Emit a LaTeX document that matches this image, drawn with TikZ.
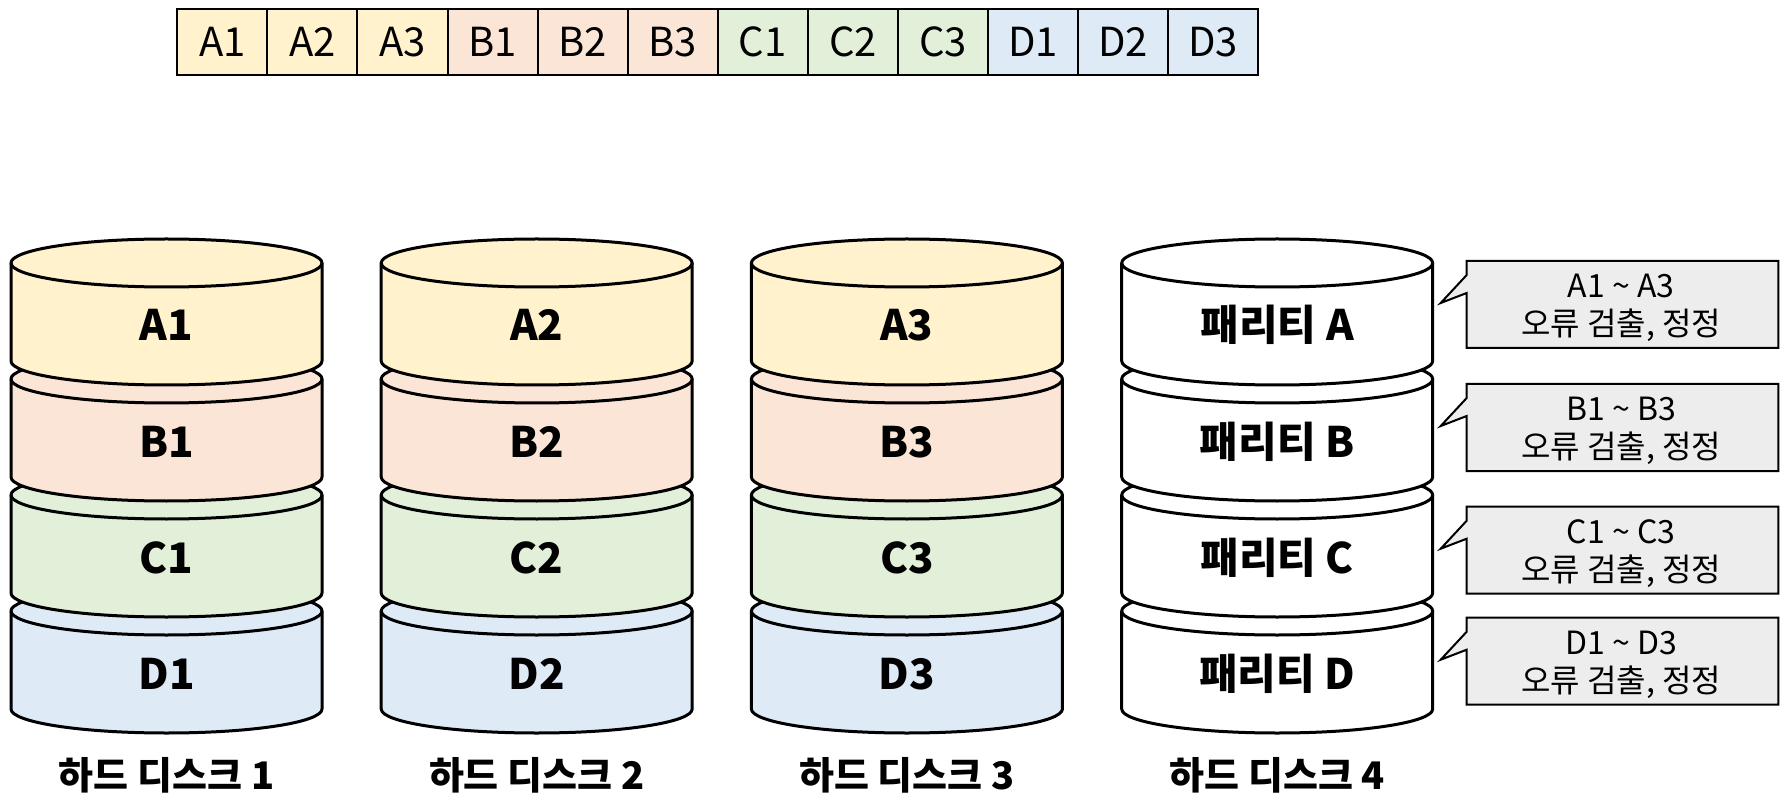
\documentclass[tikz,border=0pt]{standalone}
\usepackage{fontspec}
\setmainfont{Noto Sans CJK KR}
\definecolor{cA}{HTML}{FFF2CC}
\definecolor{cB}{HTML}{FBE5D6}
\definecolor{cC}{HTML}{E2F0D9}
\definecolor{cD}{HTML}{DEEBF7}
\definecolor{callgray}{HTML}{EDEDED}
\tikzset{
  layer/.style={draw=black, line width=3pt, line join=round},
  cell/.style={draw=black, line width=2pt, rectangle, minimum width=90.08pt, minimum height=65.7pt, inner sep=0pt, outer sep=0pt, font=\fontsize{40}{44}\selectfont},
  disklabel/.style={anchor=base, inner sep=0pt, font=\fontsize{42}{48}\selectfont\bfseries},
  diskname/.style={anchor=base, inner sep=0pt, font=\fontsize{38}{44}\selectfont\bfseries},
  callbox/.style={draw=black, line width=2pt, fill=callgray, line join=miter},
  calltext/.style={align=center, inner sep=0pt, font=\fontsize{32}{38}\selectfont},
}
\newcommand\drawlayer[5]{% name, cx, ytop (px from top), fill, label
  \filldraw[layer, fill=#4] (#2-155.5, 804-#3) -- (#2-155.5, 804-#3-98)
    arc[start angle=180, end angle=360, x radius=155.5pt, y radius=24pt]
    -- (#2+155.5, 804-#3)
    arc[start angle=0, end angle=180, x radius=155.5pt, y radius=24pt] -- cycle;
  \draw[layer] (#2-155.5, 804-#3) arc[start angle=180, end angle=360, x radius=155.5pt, y radius=24pt];
  \node[disklabel] (#1) at (#2, 804-#3-78) {#5};
}
\newcommand\drawcallout[4]{% name, top y, line1, line2
  \filldraw[callbox] (1466.7, 804-#2) -- (1778.3, 804-#2) -- (1778.3, 804-#2-87)
    -- (1466.7, 804-#2-87) -- (1466.7, 804-#2-32) -- (1440.7, 804-#2-42)
    -- (1466.7, 804-#2-14) -- cycle;
  \node[calltext] (#1) at (1621, 804-#2-47) {#3\\#4};
}
\begin{document}
\begin{tikzpicture}[x=1pt, y=1pt]
  \useasboundingbox (0,0) rectangle (1787,804);
  % top strip
  \foreach \t/\c [count=\i from 0] in {A1/cA,A2/cA,A3/cA,B1/cB,B2/cB,B3/cB,C1/cC,C2/cC,C3/cC,D1/cD,D2/cD,D3/cD} {
    \node[cell, fill=\c] (s\t) at (177.3+45.04+90.08*\i, 804-42.15) {\t};
  }
  % disks
  \foreach \d/\cx in {1/166.5, 2/536.7, 3/906.9} {
    \drawlayer{d\d D}{\cx}{611}{cD}{D\d}
    \drawlayer{d\d C}{\cx}{495}{cC}{C\d}
    \drawlayer{d\d B}{\cx}{379}{cB}{B\d}
    \drawlayer{d\d A}{\cx}{263}{cA}{A\d}
    \node[diskname] (n\d) at (\cx, 804-789) {하드 디스크 \d};
  }
  \drawlayer{pD}{1277.2}{611}{white}{패리티 D}
  \drawlayer{pC}{1277.2}{495}{white}{패리티 C}
  \drawlayer{pB}{1277.2}{379}{white}{패리티 B}
  \drawlayer{pA}{1277.2}{263}{white}{패리티 A}
  \node[diskname] (n4) at (1277.2, 804-789) {하드 디스크 4};
  % callouts
  \drawcallout{kA}{261}{A1 \char`\~{} A3}{오류 검출, 정정}
  \drawcallout{kB}{384}{B1 \char`\~{} B3}{오류 검출, 정정}
  \drawcallout{kC}{506.7}{C1 \char`\~{} C3}{오류 검출, 정정}
  \drawcallout{kD}{617.7}{D1 \char`\~{} D3}{오류 검출, 정정}
\end{tikzpicture}
\end{document}
